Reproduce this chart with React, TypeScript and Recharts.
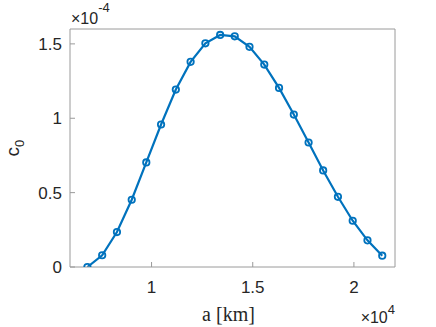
import React from 'react';
import { LineChart, Line, XAxis, YAxis } from 'recharts';

// a in units of 1e4 km, c0 in units of 1e-4
const aValues = [0.683, 0.756, 0.829, 0.902, 0.974, 1.047, 1.120, 1.193, 1.266, 1.339, 1.411, 1.484, 1.557, 1.630, 1.703, 1.776, 1.848, 1.921, 1.994, 2.067, 2.140];
const c0Values = [0.0, 0.079, 0.235, 0.452, 0.703, 0.958, 1.193, 1.379, 1.504, 1.560, 1.551, 1.480, 1.361, 1.204, 1.025, 0.837, 0.649, 0.472, 0.311, 0.179, 0.076];
const xTicks = [1, 1.5, 2];
const yTicks = [0, 0.5, 1, 1.5];
const xDomain = [0.597, 2.203];
const yDomain = [0, 1.6];
const xLabel = 'a [km]';
const yLabelMain = 'c';
const yLabelSub = '0';
const xExponent = '4';
const yExponent = '-4';

const data = aValues.map((a, i) => ({ a, c0: c0Values[i] }));

const BLUE = '#0072BD';
const AXIS = '#9a9a9a';
const TEXT = '#262626';
const SANS = '"Liberation Sans", Arial, Helvetica, sans-serif';
const SERIF = '"Liberation Serif", "Times New Roman", serif';

const fmt = (v: number) => String(v);

export default function App() {
  return (
    <div style={{ position: 'absolute', left: 0, top: 0, width: 436, height: 327, background: '#fff' }}>
      <LineChart width={436} height={327} data={data} margin={{ top: 28, right: 40, bottom: 30, left: 30 }}>
        <XAxis
          xAxisId="bottom"
          dataKey="a"
          type="number"
          domain={xDomain}
          ticks={xTicks}
          allowDataOverflow
          tickFormatter={fmt}
          height={30}
          tickSize={-5}
          tickMargin={19}
          stroke={AXIS}
          tick={{ fill: TEXT, fontSize: 17, fontFamily: SANS }}
          label={(props: any) => {
            const vb = props.viewBox || {};
            const cx = vb.x + vb.width / 2 - 4;
            const right = vb.x + vb.width;
            return (
              <g>
                <text x={cx} y={321} textAnchor="middle" fontFamily={SERIF} fontSize={20} fill={TEXT}>
                  {xLabel}
                </text>
                <text x={right} y={323} textAnchor="end" fontFamily={SANS} fontSize={16} fill={TEXT}>
                  <tspan>×10</tspan>
                  <tspan dy={-9} fontSize={13}>{xExponent}</tspan>
                </text>
              </g>
            );
          }}
        />
        <XAxis
          xAxisId="top"
          dataKey="a"
          orientation="top"
          type="number"
          domain={xDomain}
          ticks={xTicks}
          allowDataOverflow
          height={1}
          tickSize={-5}
          tick={false}
          stroke={AXIS}
          label={(props: any) => {
            const vb = props.viewBox || {};
            return (
              <text x={vb.x + 1} y={24} textAnchor="start" fontFamily={SANS} fontSize={16} fill={TEXT}>
                <tspan>×10</tspan>
                <tspan dy={-12} fontSize={13}>{yExponent}</tspan>
              </text>
            );
          }}
        />
        <YAxis
          yAxisId="left"
          type="number"
          domain={yDomain}
          ticks={yTicks}
          allowDataOverflow
          tickFormatter={fmt}
          width={40}
          tickSize={-5}
          tickMargin={13}
          stroke={AXIS}
          tick={{ fill: TEXT, fontSize: 17, fontFamily: SANS }}
          label={(props: any) => {
            const vb = props.viewBox || {};
            const cy = vb.y + vb.height / 2;
            const cx = 19;
            return (
              <text x={cx} y={cy} transform={`rotate(-90, ${cx}, ${cy})`} textAnchor="middle" fontFamily={SANS} fontSize={19} fill={TEXT}>
                <tspan>{yLabelMain}</tspan>
                <tspan dy={5} fontSize={13}>{yLabelSub}</tspan>
              </text>
            );
          }}
        />
        <YAxis
          yAxisId="right"
          orientation="right"
          type="number"
          domain={yDomain}
          ticks={yTicks}
          allowDataOverflow
          width={1}
          tickSize={-5}
          tick={false}
          stroke={AXIS}
        />
        <Line
          xAxisId="bottom"
          yAxisId="left"
          type="linear"
          dataKey="c0"
          stroke={BLUE}
          strokeWidth={2.2}
          dot={{ r: 3.2, fill: 'none', stroke: BLUE, strokeWidth: 1.8 }}
          isAnimationActive={false}
        />
        <Line
          xAxisId="top"
          yAxisId="right"
          type="linear"
          dataKey="c0"
          stroke="none"
          dot={false}
          activeDot={false}
          legendType="none"
          isAnimationActive={false}
        />
      </LineChart>
    </div>
  );
}
